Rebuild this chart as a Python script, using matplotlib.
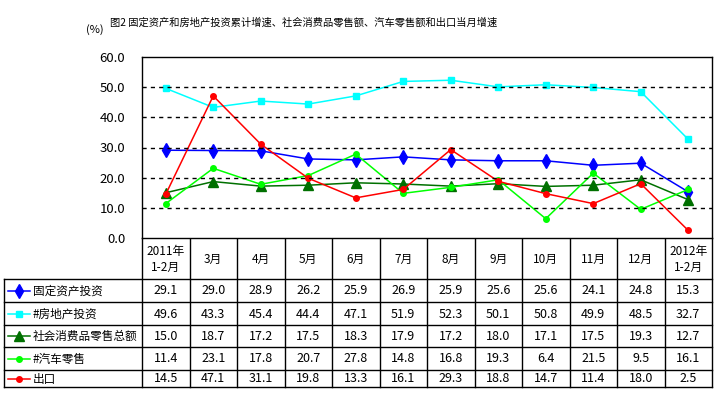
import matplotlib.pyplot as plt
from matplotlib.lines import Line2D

plt.rcParams['font.family'] = ['Noto Sans CJK SC', 'DejaVu Sans']

# 数据
months = ['2011年\n1-2月', '3月', '4月', '5月', '6月', '7月', '8月', '9月', '10月', '11月', '12月', '2012年\n1-2月']
series_names = ['固定资产投资', '#房地产投资', '社会消费品零售总额', '#汽车零售', '出口']
fixed_invest = [29.1, 29.0, 28.9, 26.2, 25.9, 26.9, 25.9, 25.6, 25.6, 24.1, 24.8, 15.3]
real_estate = [49.6, 43.3, 45.4, 44.4, 47.1, 51.9, 52.3, 50.1, 50.8, 49.9, 48.5, 32.7]
retail_sales = [15.0, 18.7, 17.2, 17.5, 18.3, 17.9, 17.2, 18.0, 17.1, 17.5, 19.3, 12.7]
auto_sales = [11.4, 23.1, 17.8, 20.7, 27.8, 14.8, 16.8, 19.3, 6.4, 21.5, 9.5, 16.1]
exports = [14.5, 47.1, 31.1, 19.8, 13.3, 16.1, 29.3, 18.8, 14.7, 11.4, 18.0, 2.5]
y_ticks = [0, 10, 20, 30, 40, 50, 60]

all_series = [fixed_invest, real_estate, retail_sales, auto_sales, exports]
styles = [
    dict(color='#0000ff', marker='d', ms=7.5, lw=1.1),
    dict(color='#00ffff', marker='s', ms=4.5, lw=1.1),
    dict(color='#007000', marker='^', ms=7.5, lw=1.1),
    dict(color='#00ff00', marker='o', ms=4, lw=1.1),
    dict(color='#ff0000', marker='o', ms=4, lw=1.1),
]

W, H = 720, 395
fig = plt.figure(figsize=(W / 100, H / 100), dpi=100)

# 像素坐标
px_l, px_r, px_t, px_b = 142, 712, 57, 238
col_w = (px_r - px_l) / len(months)

# 覆盖层，用像素坐标画表格
ov = fig.add_axes([0, 0, 1, 1])
ov.set_xlim(0, W)
ov.set_ylim(H, 0)
ov.axis('off')

ax = fig.add_axes([px_l / W, (H - px_b) / H, (px_r - px_l) / W, (px_b - px_t) / H])
x = list(range(len(months)))
for vals, st in zip(all_series, styles):
    ax.plot(x, vals, markeredgecolor=st['color'], **st)
ax.set_xlim(-0.5, len(months) - 0.5)
ax.set_ylim(0, 60)
ax.set_yticks(y_ticks)
ax.set_yticklabels([f'{v:.1f}' for v in y_ticks], fontsize=9.5)
ax.tick_params(axis='y', length=0, pad=12)
ax.set_xticks([])
for v in y_ticks[1:-1]:
    ax.axhline(v, color='black', lw=1, linestyle=(0, (3, 3)))
for s in ax.spines.values():
    s.set_linewidth(1)

# 标题
fig.text(110 / W, 1 - 23 / H, '图2 固定资产和房地产投资累计增速、社会消费品零售额、汽车零售额和出口当月增速',
         fontsize=7.4, va='center', ha='left')
fig.text(95 / W, 1 - 30 / H, '(%)', fontsize=8, va='center', ha='center')

# 表格
row_edges = [279, 302, 325, 347, 370, 387]
tbl_l = 4
# 月份行
for k in range(len(months) + 1):
    xx = px_l + k * col_w
    ov.plot([xx, xx], [px_b, row_edges[-1]], color='black', lw=1)
for i, m in enumerate(months):
    ov.text(px_l + (i + 0.5) * col_w, (px_b + row_edges[0]) / 2 + 1, m,
            ha='center', va='center', fontsize=8.5, linespacing=1.25)
for yy in row_edges:
    ov.plot([tbl_l, px_r], [yy, yy], color='black', lw=1)
ov.plot([tbl_l, tbl_l], [row_edges[0], row_edges[-1]], color='black', lw=1)

for r, (name, vals, st) in enumerate(zip(series_names, all_series, styles)):
    yc = (row_edges[r] + row_edges[r + 1]) / 2
    ov.add_line(Line2D([8, 30], [yc, yc], color=st['color'], lw=1.1))
    ov.plot([19], [yc], marker=st['marker'], ms=st['ms'], color=st['color'],
            markeredgecolor=st['color'])
    ov.text(33, yc + 0.5, name, ha='left', va='center', fontsize=8.4)
    for i, v in enumerate(vals):
        ov.text(px_l + (i + 0.5) * col_w, yc + 0.5, f'{v:.1f}',
                ha='center', va='center', fontsize=9)

fig.savefig('out.png', dpi=100)
